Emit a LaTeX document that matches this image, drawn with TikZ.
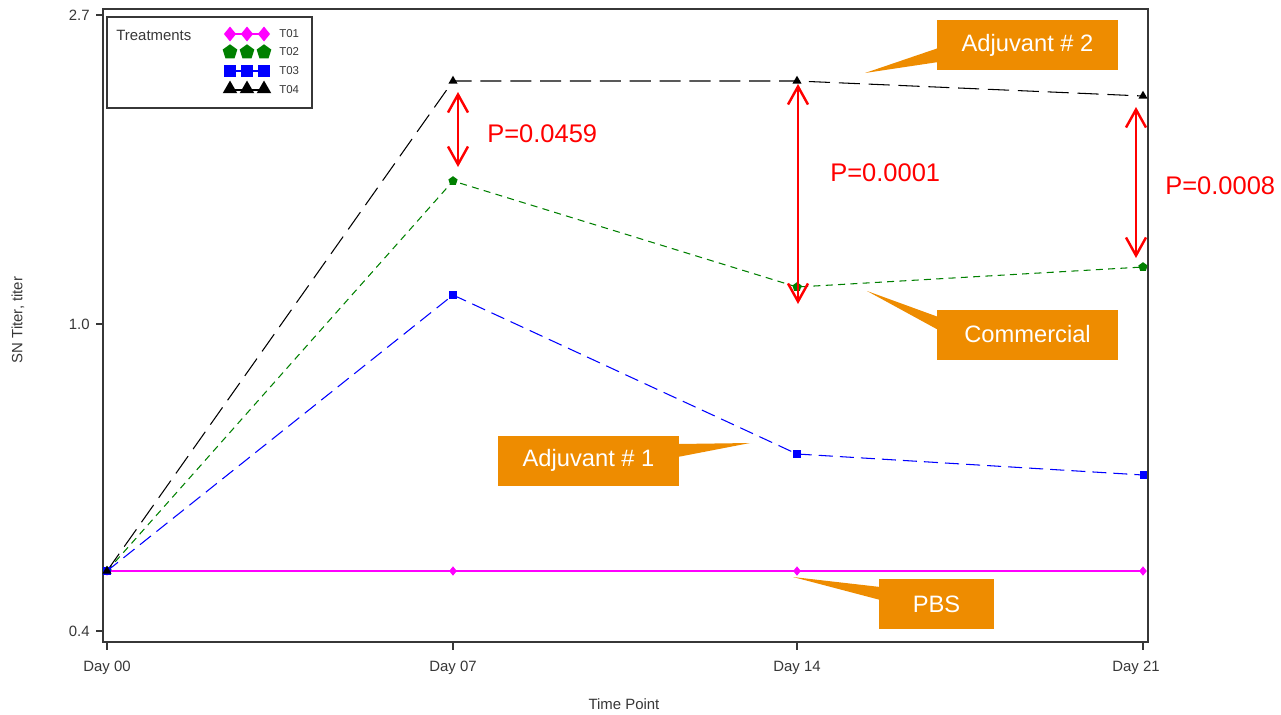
\documentclass[tikz,border=0pt]{standalone}
\usepackage{fontspec}
\setmainfont{Liberation Sans}
\usetikzlibrary{shapes.geometric, arrows.meta, positioning}
\definecolor{calloutorange}{RGB}{238,140,0}
\definecolor{plotgreen}{RGB}{0,128,0}
\definecolor{plotmagenta}{RGB}{255,0,255}
\definecolor{axisgray}{RGB}{55,55,55}

\begin{document}
\begin{tikzpicture}[
    x=0.02cm, y=-0.02cm,
    axis/.style={draw=axisgray, line width=0.6pt},
    ticklabel/.style={font=\fontsize{8.5}{10}\selectfont, text=axisgray, inner sep=0pt},
    callout/.style={rectangle, fill=calloutorange, text=white, font=\fontsize{13.5}{16}\selectfont, inner sep=0pt, minimum height=1cm},
    pval/.style={text=red, font=\fontsize{14.5}{17}\selectfont, anchor=west, inner sep=0pt},
    pdiff/.style={draw=red, line width=1.4pt, {Straight Barb[length=0.36cm,width=0.4cm]}-{Straight Barb[length=0.36cm,width=0.4cm]}},
    mdia/.style={diamond, fill=plotmagenta, inner sep=0pt, minimum width=4.5pt, minimum height=5.5pt},
    mpent/.style={regular polygon, regular polygon sides=5, fill=plotgreen, inner sep=0pt, minimum size=5.5pt},
    msq/.style={rectangle, fill=blue, inner sep=0pt, minimum size=4pt},
    mtri/.style={regular polygon, regular polygon sides=3, fill=black, inner sep=0pt, minimum size=6pt},
    big/.style={scale=1.6}
]
    \useasboundingbox (0,0) rectangle (1281,714);

    % frame and axes
    \draw[axis] (103,9) rectangle (1148,642);
    \foreach \yy/\lab in {15/2.7, 324/1.0, 631/0.4} {
        \draw[axis] (96,\yy) -- (103,\yy);
        \node[ticklabel, anchor=east] at (90,\yy) {\lab};
    }
    \foreach \xx/\lx/\lab in {107/107/Day 00, 453/453/Day 07, 797/797/Day 14, 1143/1136/Day 21} {
        \draw[axis] (\xx,642) -- (\xx,650);
        \node[ticklabel] at (\lx,668) {\lab};
    }
    \node[ticklabel, rotate=90] (ylab) at (18,320) {SN Titer, titer};
    \node[ticklabel] (xlab) at (624,704) {Time Point};

    % legend
    \draw[axis] (107,17) rectangle (312,108);
    \node[ticklabel, anchor=west] (legtitle) at (116,35) {Treatments};
    \draw[plotmagenta, line width=0.8pt] (230,34) -- (264,34);
    \draw[blue, line width=0.8pt] (230,71) -- (264,71);
    \draw[black, line width=0.8pt] (230,90) -- (264,90);
    \foreach \xx in {230, 247, 264} {
        \node[mdia, big] at (\xx,34) {};
        \node[mpent, big] at (\xx,52) {};
        \node[msq, big] at (\xx,71) {};
        \node[mtri, big] at (\xx,89) {};
    }
    \foreach \yy/\lab in {34/T01, 52/T02, 71/T03, 90/T04}
        \node[ticklabel, anchor=west, font=\fontsize{6.5}{8}\selectfont] at (279,\yy) {\lab};

    % data points
    \coordinate (t1a) at (107,571); \coordinate (t1b) at (453,571); \coordinate (t1c) at (797,571); \coordinate (t1d) at (1143,571);
    \coordinate (t2a) at (107,571); \coordinate (t2b) at (453,181); \coordinate (t2c) at (797,287); \coordinate (t2d) at (1143,267);
    \coordinate (t3a) at (107,571); \coordinate (t3b) at (453,295); \coordinate (t3c) at (797,454); \coordinate (t3d) at (1143,475);
    \coordinate (t4a) at (107,571); \coordinate (t4b) at (453,81);  \coordinate (t4c) at (797,81);  \coordinate (t4d) at (1143,96);

    \draw[plotmagenta, line width=0.7pt] (t1a) -- (t1b) -- (t1c) -- (t1d);
    \draw[plotgreen, line width=0.6pt, dash pattern=on 4pt off 3pt] (t2a) -- (t2b) -- (t2c) -- (t2d);
    \draw[blue, line width=0.6pt, dash pattern=on 8pt off 4pt] (t3a) -- (t3b) -- (t3c) -- (t3d);
    \draw[black, line width=0.6pt, dash pattern=on 12pt off 5pt] (t4a) -- (t4b) -- (t4c) -- (t4d);

    \foreach \p in {a,b,c,d} {
        \node[mdia] at (t1\p) {};
        \node[mpent] at (t2\p) {};
        \node[msq] at (t3\p) {};
        \node[mtri] at (t4\p) {};
    }

    % p-value arrows
    \coordinate (d7top) at (458,92);   \coordinate (d7bot) at (458,167);
    \coordinate (d14top) at (798,84);  \coordinate (d14bot) at (798,304);
    \coordinate (d21top) at (1136,107); \coordinate (d21bot) at (1136,258);
    \draw[pdiff] (d7top) -- (d7bot);
    \draw[pdiff] (d14top) -- (d14bot);
    \draw[pdiff] (d21top) -- (d21bot);
    \node[pval] (pd7) at (487,134) {P=0.0459};
    \node[pval] (pd14) at (830,173) {P=0.0001};
    \node[pval] (pd21) at (1165,186) {P=0.0008};

    % callouts
    \node[callout, minimum width=3.62cm] (adj2) at (1027.5,45) {Adjuvant \# 2};
    \node[callout, minimum width=3.62cm] (comm) at (1027.5,334.5) {Commercial};
    \node[callout, minimum width=3.62cm] (adj1) at (588.5,460.5) {Adjuvant \# 1};
    \node[callout, minimum width=2.3cm] (pbs) at (936.5,604) {PBS};

    \coordinate (adj2tip) at (865,73);
    \coordinate (commtip) at (867,291);
    \coordinate (adj1tip) at (750,443);
    \coordinate (pbstip) at (793,577);
    \fill[calloutorange] (adj2tip) -- ([xshift=1pt, yshift=-0.06cm]adj2.west) -- ([xshift=1pt, yshift=-0.34cm]adj2.west) -- cycle;
    \fill[calloutorange] (commtip) -- ([xshift=1pt, yshift=0.35cm]comm.west) -- ([xshift=1pt, yshift=0.09cm]comm.west) -- cycle;
    \fill[calloutorange] (adj1tip) -- ([xshift=-1pt, yshift=0.33cm]adj1.east) -- ([xshift=-1pt, yshift=0.07cm]adj1.east) -- cycle;
    \fill[calloutorange] (pbstip) -- ([xshift=1pt, yshift=0.34cm]pbs.west) -- ([xshift=1pt, yshift=0.08cm]pbs.west) -- cycle;
\end{tikzpicture}
\end{document}
